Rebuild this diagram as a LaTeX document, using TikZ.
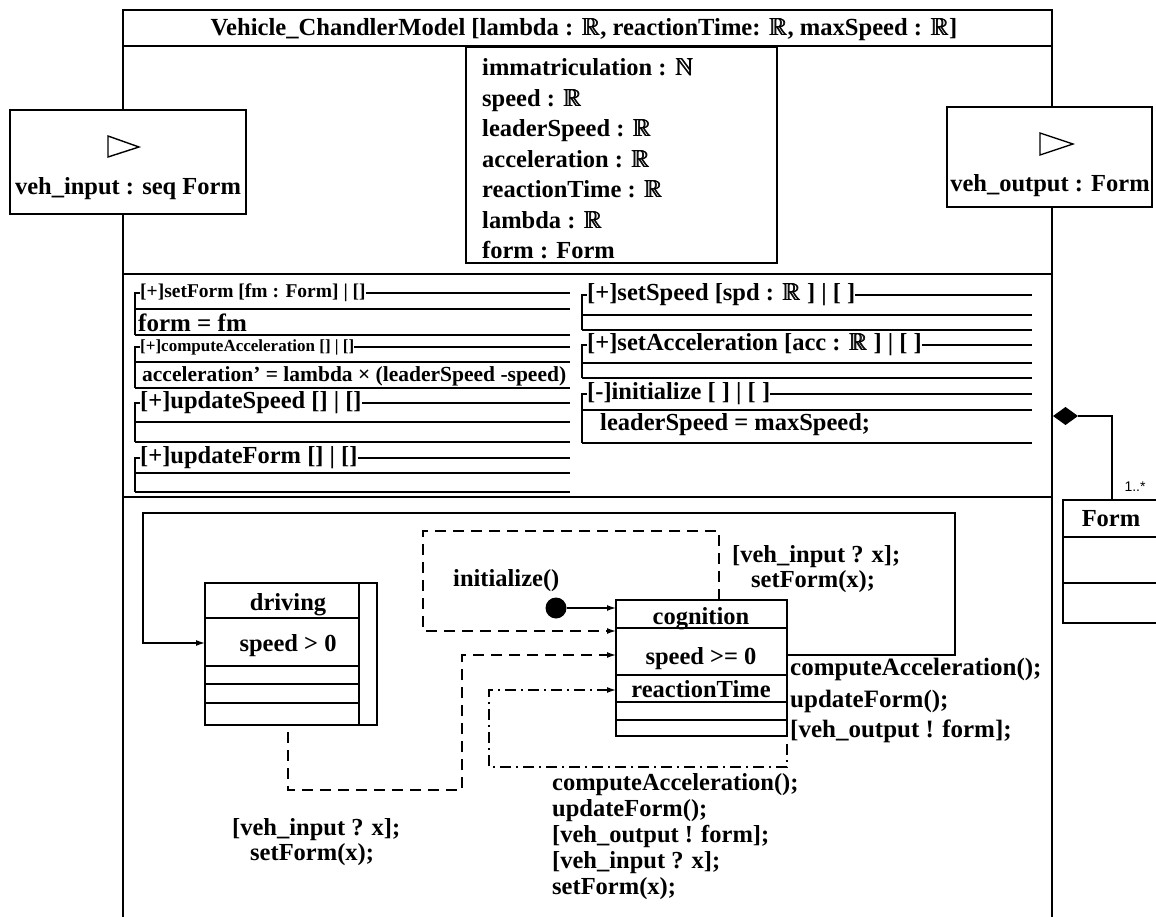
\documentclass[tikz,border=0pt]{standalone}
\usepackage{fontspec}
\setmainfont{Liberation Serif}
\setsansfont{Liberation Sans}
\usepackage{amssymb}
\usetikzlibrary{arrows.meta,shapes.geometric}
\newcommand\fsz[1]{\fontsize{#1}{#1}\selectfont\bfseries}
\newcommand\bbb[1]{\mbox{\rlap{$\mathbb{#1}$}\kern0.5pt\rlap{$\mathbb{#1}$}\kern0.5pt$\mathbb{#1}$}}
\newcommand\R{\bbb{R}}
\newcommand\N{\bbb{N}}
\newcommand\opbox[9]{%
  \node[optxt, font=\fsz{#7}] (#1) at (#2+5,#4) {#8};
  \draw[ln] (#1.east) -- (#3,#4);
  \draw[ln] (#1.west) -- (#2,#4) -- (#2,#6);
  \draw[ln] (#2,#5) -- (#3,#5);
  \draw[ln] (#2,#6) -- (#3,#6);
  #9}
\begin{document}
\begin{tikzpicture}[x=1pt,y=-1pt,
  ln/.style={line width=1.4pt},
  heavy/.style={line width=1.8pt},
  box/.style={draw, line width=1.4pt, fill=white, inner sep=0pt, outer sep=0pt},
  optxt/.style={anchor=west, inner sep=0pt},
  txt/.style={anchor=base west, inner sep=0pt, font=\fsz{24.5}},
  ctxt/.style={anchor=base, inner sep=0pt, font=\fsz{24.5}},
  dsh/.style={line width=1.4pt, dash pattern=on 11pt off 7pt},
  dshdot/.style={line width=1.4pt, dash pattern=on 11pt off 5pt on 2pt off 5pt},
  arr/.style={-{Latex[length=9pt,width=6pt]}}]
\useasboundingbox (0,0) rectangle (1156,917);
\fill[white] (0,0) rectangle (1156,917);

% ---------- main class frame ----------
\draw[heavy] (123,917) -- (123,10) -- (1052,10) -- (1052,917);
\node[ctxt, font=\fsz{24.6}] (title) at (584,36) {Vehicle\_ChandlerModel [lambda : \R, reactionTime: \R, maxSpeed : \R]};
\draw[heavy] (123,46) -- (1052,46);
\draw[heavy] (123,274) -- (1052,274);
\draw[heavy] (123,497) -- (1052,497);

% ---------- attributes ----------
\node[box, anchor=north west, minimum width=311, minimum height=216] (attr) at (466,47) {};
\node[txt] (a1) at (482,76) {immatriculation : \N};
\node[txt] (a2) at (482,106.5) {speed : \R};
\node[txt] (a3) at (482,137) {leaderSpeed : \R};
\node[txt] (a4) at (482,167.5) {acceleration : \R};
\node[txt] (a5) at (482,198) {reactionTime : \R};
\node[txt] (a6) at (482,228.5) {lambda : \R};
\node[txt] (a7) at (482,259) {form : Form};

% ---------- ports ----------
\node[box, anchor=north west, minimum width=236, minimum height=104] (vin) at (10,110) {};
\draw[ln] (108,136) -- (139,147) -- (108,157) -- cycle;
\node[ctxt] (vint) at (128,195) {veh\_input : seq Form};
\node[box, anchor=north west, minimum width=205, minimum height=100] (vout) at (947,107) {};
\draw[ln] (1040,133) -- (1073,144) -- (1040,155) -- cycle;
\node[ctxt] (voutt) at (1050,192) {veh\_output : Form};

% ---------- operations ----------
\opbox{o1}{135}{570}{293}{309}{335}{19.5}{[+]setForm [fm : Form] | []}{\node[optxt, font=\fsz{25}] (o1b) at (138,323) {form = fm};}
\opbox{o2}{135}{570}{347}{362}{388}{17}{[+]computeAcceleration [] | []}{\node[optxt, font=\fsz{21.5}] (o2b) at (142,376) {acceleration' = lambda × (leaderSpeed -speed)};}
\opbox{o3}{135}{570}{403}{422}{442}{24.5}{[+]updateSpeed [] | []}{}
\opbox{o4}{135}{570}{458}{473}{492}{24.5}{[+]updateForm [] | []}{}
\opbox{o5}{582}{1032}{295}{315}{330}{24.5}{[+]setSpeed [spd : \R\ ] | [ ]}{}
\opbox{o6}{582}{1032}{345}{363}{378}{24.5}{[+]setAcceleration [acc : \R\ ] | [ ]}{}
\opbox{o7}{582}{1032}{394}{410}{443}{24.5}{[-]initialize [ ] | [ ]}{\node[optxt, font=\fsz{24.5}] (o7b) at (600,425) {leaderSpeed = maxSpeed;};}

% ---------- composition with Form ----------
\node[box, anchor=north west, minimum width=115, minimum height=123] (frm) at (1063,500) {};
\node[ctxt] (frmt) at (1111,526) {Form};
\draw[ln] (1063,537) -- (1170,537);
\draw[ln] (1063,583) -- (1170,583);
\fill (1053,416) -- (1065.5,407) -- (1078,416) -- (1065.5,425) -- cycle;
\coordinate (dmd) at (1078,416);
\draw[ln] (dmd) -| ([xshift=49pt]frm.north west);
\node[inner sep=0pt, font=\sffamily\fontsize{14}{14}\selectfont] (mult) at (1135,487) {1..*};

% ---------- state machine ----------
\node[box, anchor=north west, minimum width=172, minimum height=142] (drv) at (205,583) {};
\draw[ln] (359,583) -- (359,725);
\draw[ln] (205,618) -- (359,618);
\draw[ln] (205,666) -- (359,666);
\draw[ln] (205,684) -- (359,684);
\draw[ln] (205,703) -- (359,703);
\node[ctxt] (drvt) at (288,610) {driving};
\node[ctxt] (drvg) at (288,651) {speed > 0};

\node[box, anchor=north west, minimum width=171, minimum height=136] (cog) at (616,600) {};
\draw[ln] (616,628) -- (787,628);
\draw[ln] (616,675) -- (787,675);
\draw[ln] (616,702) -- (787,702);
\draw[ln] (616,720) -- (787,720);
\node[ctxt] (cogt) at (701,624) {cognition};
\node[ctxt] (cogg) at (701,664) {speed >= 0};
\node[ctxt] (cogr) at (701,697) {reactionTime};

\node[circle, fill, minimum size=21pt, inner sep=0pt] (init) at (556,608) {};
\draw[ln, arr] (init) -- (cog.west |- init);

% initialize() self transition
\draw[dsh, arr] ([xshift=103pt]cog.north west) -- (719,531) -- (423,531) -- (423,631) -- (cog.west |- 0,631);
\node[txt] (initl) at (453,586) {initialize()};

% solid loop cognition -> driving
\draw[ln, arr] (cog.east |- 0,655) -- (955,655) -- (955,513) -- (143,513) -- (143,643) -- (drv.west |- 0,643);
\node[txt] (l1a) at (732,562) {[veh\_input ? x];};
\node[txt] (l1b) at (751,587) {setForm(x);};
\node[txt, font=\fsz{25}] (l2a) at (790,675) {computeAcceleration();};
\node[txt, font=\fsz{25}] (l2b) at (790,707) {updateForm();};
\node[txt, font=\fsz{25}] (l2c) at (790,737) {[veh\_output ! form];};

% dashed driving -> cognition
\coordinate (d0) at (288,732);
\draw[dsh, arr] (d0) -- (288,790) -- (462,790) -- (462,655) -- (cog.west |- 0,655);
\node[txt] (l3a) at (232,835) {[veh\_input ? x];};
\node[txt] (l3b) at (250,860) {setForm(x);};

% dash-dot cognition self transition
\coordinate (e0) at (787,744);
\draw[dshdot, arr] (e0) -- (787,767) -- (489,767) -- (489,690) -- (cog.west |- 0,690);
\node[txt] (l4a) at (552,790) {computeAcceleration();};
\node[txt] (l4b) at (552,816) {updateForm();};
\node[txt] (l4c) at (552,842) {[veh\_output ! form];};
\node[txt] (l4d) at (552,868) {[veh\_input ? x];};
\node[txt] (l4e) at (552,894) {setForm(x);};
\end{tikzpicture}
\end{document}
